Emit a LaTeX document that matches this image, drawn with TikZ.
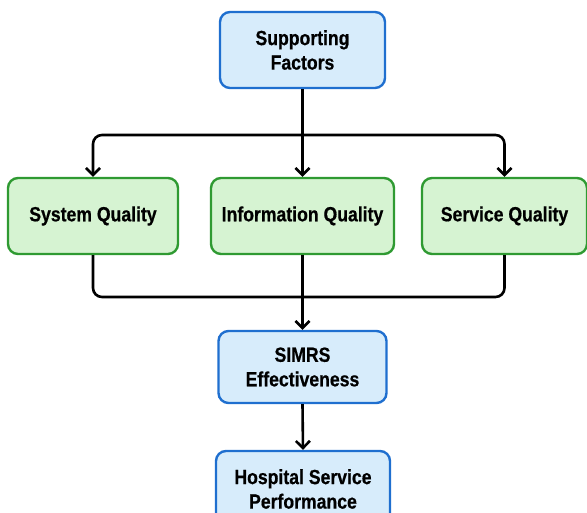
\documentclass[tikz,border=0pt]{standalone}
\usepackage{fontspec}
\setmainfont{Liberation Sans}
\newfontfamily\boxfont[FakeStretch=0.86, FakeBold=0.6]{Liberation Sans Bold}
\usetikzlibrary{arrows.meta}
\definecolor{bluefill}{HTML}{D7ECFB}
\definecolor{blueline}{HTML}{1F6FCF}
\definecolor{greenfill}{HTML}{D6F3D2}
\definecolor{greenline}{HTML}{2F9A32}
\begin{document}
\begin{tikzpicture}[x=1pt,y=-1pt,
  box/.style={rounded corners=10pt, line width=2.4pt, align=center,
    inner sep=0pt, font=\boxfont\fontsize{20.5}{24.5}\selectfont},
  bluebox/.style={box, draw=blueline, fill=bluefill},
  greenbox/.style={box, draw=greenline, fill=greenfill},
  link/.style={line width=2.6pt, black},
  arrow/.style={link, -{Straight Barb[length=7pt,width=14pt,line width=2.6pt]}}]
\useasboundingbox (0,0) rectangle (587,513);

% boxes
\node[bluebox, minimum width=165pt, minimum height=76pt] (top) at (302.5,50) {Supporting\\Factors};
\node[greenbox, minimum width=170pt, minimum height=76pt] (sq) at (93,216) {System Quality};
\node[greenbox, minimum width=183pt, minimum height=76pt] (iq) at (302.5,216) {Information Quality};
\node[greenbox, minimum width=165pt, minimum height=76pt] (sv) at (504.5,216) {Service Quality};
\node[bluebox, minimum width=168pt, minimum height=72pt] (simrs) at (302.5,367) {SIMRS\\Effectiveness};
\node[bluebox, minimum width=174pt, minimum height=76pt] (hosp) at (303,489) {Hospital Service\\Performance};

% fan-out from the supporting factors
\coordinate (split) at (302.5,135);
\draw[link] (top.south) -- (split);
\draw[arrow] (split) -- (iq.north);
\draw[arrow, rounded corners=9pt] (split) -| (sq.north);
\draw[arrow, rounded corners=9pt] (split) -| (sv.north);

% merge into SIMRS effectiveness
\coordinate (merge) at (302.5,297);
\draw[link, rounded corners=9pt] (sq.south) |- (merge);
\draw[link, rounded corners=9pt] (sv.south) |- (merge);
\draw[link] (iq.south) -- (merge);
\draw[arrow] (merge) -- (simrs.north);
\draw[arrow] (simrs.south) -- (hosp.north);
\end{tikzpicture}
\end{document}
